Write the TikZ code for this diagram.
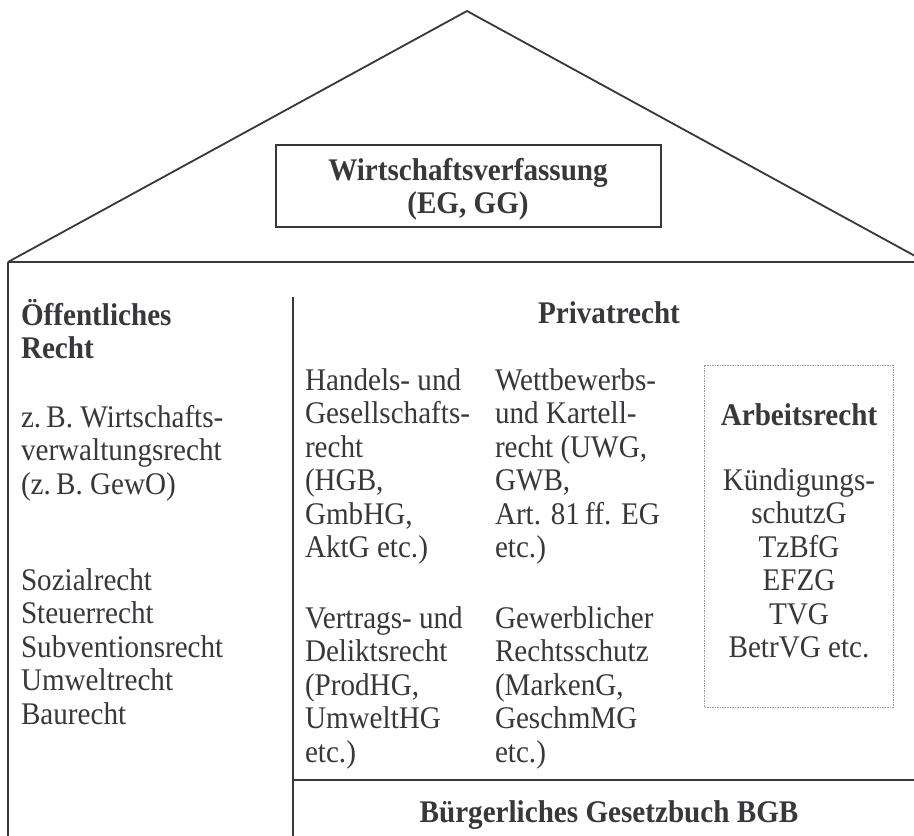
\documentclass[tikz,border=0pt]{standalone}
\usepackage{fontspec}
\setmainfont{Liberation Serif}[FakeStretch=0.925]
\definecolor{ink}{RGB}{55,55,60}
\definecolor{dashgray}{RGB}{150,150,155}
\newcommand\lblock[1]{\vtop{\baselineskip=33.5pt\lineskiplimit=-\maxdimen\lineskip=0pt\halign{##\hfil\cr#1\crcr}}}
\newcommand\cblock[1]{\vtop{\baselineskip=33.5pt\lineskiplimit=-\maxdimen\lineskip=0pt\halign{\hfil##\hfil\cr#1\crcr}}}
\begin{document}
\begin{tikzpicture}[x=1pt,y=-1pt,
  txt/.style={inner sep=0pt,outer sep=0pt,text=ink,font=\fontsize{31.5}{33.5}\selectfont},
  wall/.style={draw=ink,line width=2pt},
  roofline/.style={draw=ink,line width=1.8pt},
  dashbox/.style={draw=dashgray,line width=0.8pt,dash pattern=on 1.5pt off 1pt}]
\useasboundingbox (0,0) rectangle (914,836);
\clip (0,0) rectangle (914,836);
% roof
\coordinate (roofL) at (8,262);
\coordinate (apex) at (467,11);
\coordinate (roofR) at (926,262);
\draw[roofline,line join=miter] (roofL) -- (apex) -- (roofR);
% walls
\coordinate (floorR) at (916,262);
\coordinate (wallB) at (8,840);
\coordinate (midT) at (293,297);
\coordinate (midB) at (293,840);
\coordinate (bgbL) at (293,780);
\coordinate (bgbR) at (916,780);
\draw[wall] (roofL) -- (floorR);
\draw[wall] (roofL) -- (wallB);
\draw[wall] (midT) -- (midB);
\draw[wall] (bgbL) -- (bgbR);
% Wirtschaftsverfassung box
\draw[wall] (276,145) rectangle (661,227);
\node[txt,anchor=base] (wv) at (468,180) {\cblock{\textbf{Wirtschaftsverfassung}\cr\textbf{(EG, GG)}}};
% left column
\node[txt,anchor=base west] (oeff) at (21,325) {\lblock{\textbf{Öffentliches}\cr\textbf{Recht}}};
\node[txt,anchor=base west] (wvr) at (21,427) {\lblock{z.\,B. Wirtschafts-\cr verwaltungsrecht\cr (z.\,B. GewO)}};
\node[txt,anchor=base west] (sozial) at (21,590) {\lblock{Sozialrecht\cr Steuerrecht\cr Subventionsrecht\cr Umweltrecht\cr Baurecht}};
% Privatrecht
\node[txt,anchor=base] (privat) at (609,323) {\textbf{Privatrecht}};
\node[txt,anchor=base west] (handel) at (305,390) {\lblock{Handels- und\cr Gesellschafts-\cr recht\cr (HGB,\cr GmbHG,\cr AktG etc.)}};
\node[txt,anchor=base west] (wettb) at (495,390) {\lblock{Wettbewerbs-\cr und Kartell-\cr recht (UWG,\cr GWB,\cr Art. 81\,ff. EG\cr etc.)}};
\node[txt,anchor=base west] (vertrag) at (305,628) {\lblock{Vertrags- und\cr Deliktsrecht\cr (ProdHG,\cr UmweltHG\cr etc.)}};
\node[txt,anchor=base west] (gewerb) at (495,628) {\lblock{Gewerblicher\cr Rechtsschutz\cr (MarkenG,\cr GeschmMG\cr etc.)}};
% Arbeitsrecht
\draw[dashbox] (704,365) rectangle (893,707);
\node[txt,anchor=base] (arbeit) at (799,425) {\textbf{Arbeitsrecht}};
\node[txt,anchor=base] (kschg) at (799,490) {\cblock{Kündigungs-\cr schutzG\cr TzBfG\cr EFZG\cr TVG\cr BetrVG etc.}};
% BGB
\node[txt,anchor=base] (bgb) at (609,822) {\textbf{Bürgerliches Gesetzbuch BGB}};
\end{tikzpicture}
\end{document}
